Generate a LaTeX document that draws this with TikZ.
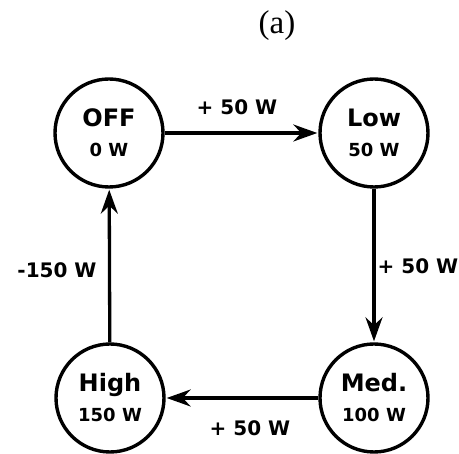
\documentclass[tikz,border=0pt]{standalone}
\usepackage{fontspec}
\setmainfont{Liberation Serif}
\newfontfamily\lab{DejaVu Sans}
\usetikzlibrary{arrows.meta}
\begin{document}
\begin{tikzpicture}[x=1pt,y=-1pt,
  state/.style={circle,draw,line width=3.4pt,minimum size=108pt,inner sep=0pt,align=center,font=\lab\bfseries\fontsize{18}{30}\selectfont},
  trans/.style={line width=3.3pt,-{Stealth[length=24pt,width=17pt,inset=8pt]},shorten >=1pt},
  tlabel/.style={font=\lab\bfseries\fontsize{20}{22}\selectfont,inner sep=0pt}]
\useasboundingbox (0,0) rectangle (459,454);
\node[font=\fontsize{33}{36}\selectfont] (title) at (277,26) {(a)};
\newcommand{\stname}[2]{{\fontsize{24}{30}\selectfont #1}\\#2}
\node[state] (off) at (109,133) {\stname{OFF}{0 W}};
\node[state] (low) at (374,133) {\stname{Low}{50 W}};
\node[state] (med) at (374,398) {\stname{Med.}{100 W}};
\node[state] (high) at (110,398) {\stname{High}{150 W}};
\draw[trans] (off) -- (low);
\draw[trans] (low) -- (med);
\draw[trans] (med) -- (high);
\draw[trans] (high) -- (off);
\node[tlabel] (l1) at (237,107) {+ 50 W};
\node[tlabel] (l2) at (418,266) {+ 50 W};
\node[tlabel] (l3) at (250,428) {+ 50 W};
\node[tlabel] (l4) at (57,270) {-150 W};
\end{tikzpicture}
\end{document}
